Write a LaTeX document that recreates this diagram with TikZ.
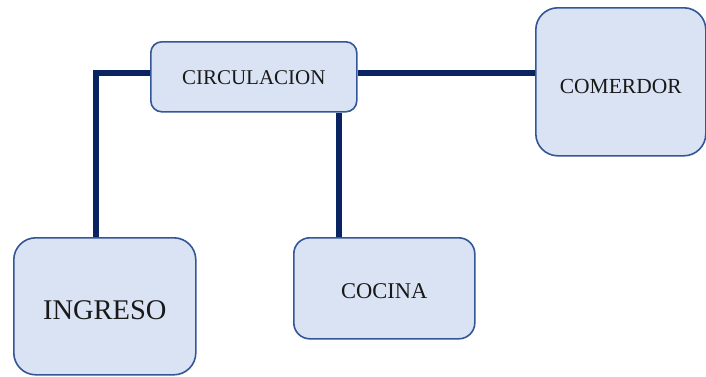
\documentclass[tikz,border=0pt]{standalone}
\usepackage{fontspec}
\setmainfont{Liberation Serif}
\definecolor{boxfill}{RGB}{218,227,243}
\definecolor{boxline}{RGB}{52,86,150}
\definecolor{connline}{RGB}{10,36,98}
\begin{document}
\begin{tikzpicture}[x=1pt,y=-1pt,
  room/.style={draw=boxline,line width=1.6pt,fill=boxfill,rounded corners=#1,anchor=north west,inner sep=0pt,text=black!90,text depth=0pt},
  conn/.style={draw=connline,line width=6pt}]
\useasboundingbox (0,0) rectangle (706,376);
\coordinate (bend) at (96,73);
\coordinate (down) at (339,73);
\node[room=11pt,minimum width=206pt,minimum height=70pt,font=\fontsize{21}{24}\selectfont,text height=15pt] (circ) at (150,41) {CIRCULACION};
\node[room=22pt,minimum width=170pt,minimum height=148pt,font=\fontsize{21.5}{24}\selectfont,text height=23.6pt] (comedor) at (535,7) {COMERDOR};
\node[room=22pt,minimum width=182pt,minimum height=137pt,font=\fontsize{28.5}{32}\selectfont,text height=26pt] (ingreso) at (13,237) {INGRESO};
\node[room=16pt,minimum width=181pt,minimum height=101pt,font=\fontsize{22.5}{26}\selectfont,text height=19.8pt] (cocina) at (293,237) {COCINA};
\draw[conn] (bend |- ingreso.north) -- (bend) -- (bend -| circ.west);
\draw[conn] (bend -| circ.east) -- (bend -| comedor.west);
\draw[conn] (down |- circ.south) -- (down |- cocina.north);
\end{tikzpicture}
\end{document}
